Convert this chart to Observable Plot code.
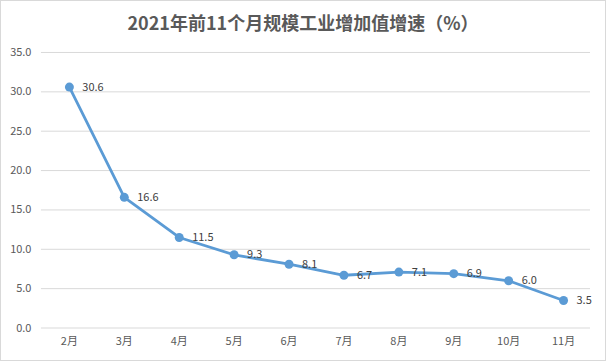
<!DOCTYPE html>
<html><head><meta charset="utf-8">
<script src="https://cdn.jsdelivr.net/npm/d3@7"></script>
<script src="https://cdn.jsdelivr.net/npm/@observablehq/plot@0.6"></script>
<style>
body{margin:0;background:#fff;}
#wrap{width:606px;height:361px;box-sizing:border-box;border:1px solid #d9d9d9;background:#fff;position:relative;font-family:"Noto Sans CJK SC","Noto Sans",sans-serif;}
#title{position:absolute;left:0;top:9px;width:604px;text-align:center;font-size:18px;font-weight:bold;color:#595959;line-height:24px;}
#chart{position:absolute;left:-1px;top:39px;}
</style></head><body>
<div id="wrap"><div id="title">2021年前11个月规模工业增加值增速（%）</div><div id="chart"></div></div>
<script>
const months = ["2月","3月","4月","5月","6月","7月","8月","9月","10月","11月"];
const values = [30.6,16.6,11.5,9.3,8.1,6.7,7.1,6.9,6.0,3.5];
const yTicks = [0,5,10,15,20,25,30,35];
const data = months.map((m,i)=>({month:m,value:values[i]}));
const font = "\"Noto Sans CJK SC\",\"Noto Sans\",sans-serif";
const plot = Plot.plot({
  width:606, height:322,
  marginTop:12, marginBottom:34, marginLeft:41, marginRight:15,
  style:{fontFamily:font, fontSize:"11px", color:"#595959", background:"transparent"},
  x:{type:"point", domain:months, padding:0.5, label:null},
  y:{domain:[0,35], label:null},
  marks:[
    Plot.ruleY(yTicks,{stroke:"#d9d9d9", strokeWidth:1}),
    Plot.axisY({ticks:yTicks, tickFormat:d=>d.toFixed(1), tickSize:0, tickPadding:10, fill:"#595959", fontSize:11, label:null}),
    Plot.axisX({tickSize:0, tickPadding:9, fill:"#595959", fontSize:11, label:null}),
    Plot.line(data,{x:"month", y:"value", stroke:"#5b9bd5", strokeWidth:2.8}),
    Plot.dot(data,{x:"month", y:"value", r:4.5, fill:"#5b9bd5", stroke:"none"}),
    Plot.text(data,{x:"month", y:"value", text:d=>d.value.toFixed(1), dx:13, textAnchor:"start", fill:"#404040", fontSize:11})
  ]
});
document.getElementById("chart").appendChild(plot);
</script>
</body></html>
